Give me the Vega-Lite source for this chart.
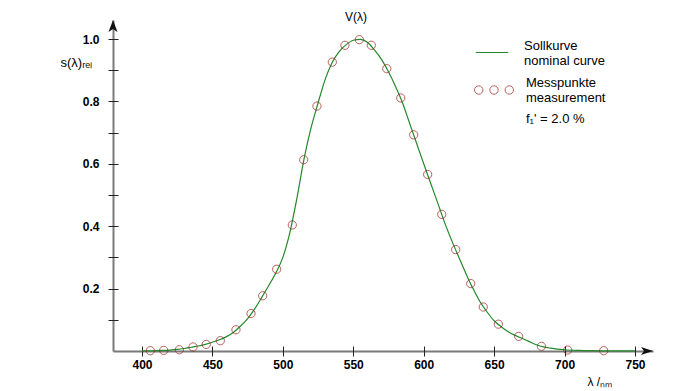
{
  "$schema": "https://vega.github.io/schema/vega-lite/v6.json",
  "width": 540,
  "height": 331,
  "autosize": {"type": "none"},
  "padding": {"left": 113, "top": 20, "right": 38, "bottom": 40},
  "title": {"text": "V(λ)", "anchor": "middle", "dx": -27, "offset": -4, "fontSize": 12, "fontWeight": "normal", "font": "Liberation Sans", "color": "#000"},
  "datasets": {
    "curve": [
      {"wl": 400, "v": 0.0003}, {"wl": 405, "v": 0.0006}, {"wl": 410, "v": 0.001}, {"wl": 415, "v": 0.0018},
      {"wl": 420, "v": 0.003}, {"wl": 425, "v": 0.005}, {"wl": 430, "v": 0.008}, {"wl": 435, "v": 0.012},
      {"wl": 440, "v": 0.016}, {"wl": 445, "v": 0.021}, {"wl": 450, "v": 0.028}, {"wl": 455, "v": 0.036},
      {"wl": 460, "v": 0.046}, {"wl": 465, "v": 0.06}, {"wl": 470, "v": 0.08}, {"wl": 475, "v": 0.104},
      {"wl": 480, "v": 0.135}, {"wl": 485, "v": 0.172}, {"wl": 490, "v": 0.21}, {"wl": 495, "v": 0.25},
      {"wl": 500, "v": 0.3}, {"wl": 505, "v": 0.38}, {"wl": 510, "v": 0.49}, {"wl": 515, "v": 0.615},
      {"wl": 520, "v": 0.715}, {"wl": 525, "v": 0.795}, {"wl": 530, "v": 0.87}, {"wl": 535, "v": 0.925},
      {"wl": 540, "v": 0.96}, {"wl": 545, "v": 0.982}, {"wl": 550, "v": 0.996}, {"wl": 555, "v": 0.999},
      {"wl": 560, "v": 0.99}, {"wl": 565, "v": 0.965}, {"wl": 570, "v": 0.935}, {"wl": 575, "v": 0.895},
      {"wl": 580, "v": 0.848}, {"wl": 585, "v": 0.795}, {"wl": 590, "v": 0.73}, {"wl": 595, "v": 0.665},
      {"wl": 600, "v": 0.6}, {"wl": 605, "v": 0.537}, {"wl": 610, "v": 0.474}, {"wl": 615, "v": 0.41},
      {"wl": 620, "v": 0.353}, {"wl": 625, "v": 0.3}, {"wl": 630, "v": 0.248}, {"wl": 635, "v": 0.2},
      {"wl": 640, "v": 0.158}, {"wl": 645, "v": 0.125}, {"wl": 650, "v": 0.097}, {"wl": 655, "v": 0.078},
      {"wl": 660, "v": 0.062}, {"wl": 665, "v": 0.05}, {"wl": 670, "v": 0.04}, {"wl": 675, "v": 0.03},
      {"wl": 680, "v": 0.02}, {"wl": 685, "v": 0.013}, {"wl": 690, "v": 0.009}, {"wl": 695, "v": 0.006},
      {"wl": 700, "v": 0.004}, {"wl": 710, "v": 0.002}, {"wl": 720, "v": 0.001}, {"wl": 730, "v": 0.0006},
      {"wl": 740, "v": 0.0003}, {"wl": 750, "v": 0.0002}
    ],
    "meas": [
      {"wl": 405.9, "v": 0.001}, {"wl": 415.4, "v": 0.002}, {"wl": 426.5, "v": 0.004}, {"wl": 436.2, "v": 0.013},
      {"wl": 445.6, "v": 0.021}, {"wl": 455.6, "v": 0.033}, {"wl": 466.7, "v": 0.068}, {"wl": 477.4, "v": 0.12},
      {"wl": 485.7, "v": 0.177}, {"wl": 495.6, "v": 0.262}, {"wl": 506.7, "v": 0.404}, {"wl": 514.8, "v": 0.613},
      {"wl": 524.2, "v": 0.785}, {"wl": 535.1, "v": 0.926}, {"wl": 544.1, "v": 0.98}, {"wl": 554.3, "v": 0.998},
      {"wl": 562.8, "v": 0.98}, {"wl": 573.8, "v": 0.905}, {"wl": 583.7, "v": 0.811}, {"wl": 592.9, "v": 0.693},
      {"wl": 602.8, "v": 0.566}, {"wl": 612.8, "v": 0.438}, {"wl": 622.7, "v": 0.325}, {"wl": 633.4, "v": 0.216},
      {"wl": 642.3, "v": 0.141}, {"wl": 653.0, "v": 0.086}, {"wl": 667.4, "v": 0.047}, {"wl": 683.6, "v": 0.015},
      {"wl": 702.2, "v": 0.003}, {"wl": 727.8, "v": 0.001}
    ]
  },
  "layer": [
    {
      "data": {"name": "curve"},
      "mark": {"type": "line", "interpolate": "monotone", "strokeWidth": 1.2},
      "encoding": {
        "x": {"field": "wl", "type": "quantitative", "scale": {"domain": [379.4, 762.8], "nice": false, "zero": false},
          "axis": {"orient": "bottom", "domain": true, "domainColor": "#7a7a7a", "domainWidth": 2, "ticks": false, "labels": false, "grid": false,
            "title": "λ /ₙₘ", "titleX": 474, "titleY": 30, "titleAlign": "left", "titleBaseline": "middle", "titleFontWeight": "normal", "titleFontSize": 12}},
        "y": {"field": "v", "type": "quantitative", "scale": {"domain": [0, 1.061], "nice": false, "zero": false},
          "axis": {"orient": "left", "domain": true, "domainColor": "#7a7a7a", "domainWidth": 2, "ticks": false, "labels": false, "grid": false,
            "title": "s(λ)ᵣₑₗ", "titleAngle": 0, "titleX": -53, "titleY": 42, "titleAlign": "left", "titleBaseline": "middle", "titleFontWeight": "normal", "titleFontSize": 13}},
        "color": {"datum": "Sollkurve", "type": "nominal", "scale": {"range": ["#23892a"]},
          "legend": {"orient": "none", "legendX": 362, "legendY": 15.5, "title": null, "padding": 0, "symbolType": "stroke", "symbolSize": 1063, "symbolStrokeWidth": 1.2,
            "labelOffset": 15, "labelFontSize": 13, "labelBaseline": "bottom", "labelLimit": 0, "labelExpr": "['Sollkurve','nominal curve']"}}
      }
    },
    {
      "data": {"name": "meas"},
      "mark": {"type": "point", "filled": false, "size": 68, "strokeWidth": 1},
      "encoding": {
        "x": {"field": "wl", "type": "quantitative",
          "axis": {"orient": "bottom", "domain": false, "ticks": true, "tickSize": 10, "tickWidth": 1, "offset": -5, "values": [400, 450, 500, 550, 600, 650, 700, 750],
            "labelPadding": 3, "labelFontSize": 12, "labelFontWeight": "bold", "grid": false, "title": null}},
        "y": {"field": "v", "type": "quantitative",
          "axis": {"orient": "left", "domain": false, "ticks": true, "tickSize": 10, "tickWidth": 1, "offset": -5, "values": [0.1, 0.2, 0.3, 0.4, 0.5, 0.6, 0.7, 0.8, 0.9, 1.0],
            "labelExpr": "round(datum.value*10) % 2 == 0 ? format(datum.value, '.1f') : ''", "labelPadding": 9, "labelFontSize": 12, "labelFontWeight": "bold", "grid": false, "title": null}},
        "color": {"datum": "Messpunkte", "type": "nominal", "scale": {"range": ["#9e1b1b"]},
          "legend": {"orient": "none", "legendX": 360, "legendY": 49, "title": null,
            "padding": 0, "symbolType": "M-0.965,0A0.208,0.208,0,1,0,-0.549,0A0.208,0.208,0,1,0,-0.965,0ZM-0.208,0A0.208,0.208,0,1,0,0.208,0A0.208,0.208,0,1,0,-0.208,0ZM0.549,0A0.208,0.208,0,1,0,0.965,0A0.208,0.208,0,1,0,0.549,0Z",
            "symbolSize": 1632, "symbolStrokeWidth": 1, "symbolFillColor": "transparent", "labelOffset": 11, "labelFontSize": 13, "labelBaseline": "bottom", "labelLimit": 0,
            "labelExpr": "['Messpunkte','measurement']"}}
      }
    },
    {
      "data": {"values": [{}]},
      "mark": {"type": "point", "shape": "M0,0L-2,-0.65L-1.5,0L-2,0.65Z", "filled": true, "size": 144, "color": "#111", "opacity": 1},
      "encoding": {
        "x": {"datum": 762.8, "type": "quantitative", "axis": null},
        "y": {"datum": 0, "type": "quantitative", "axis": null},
        "strokeDash": {"datum": "f₁' = 2.0 %", "type": "nominal",
          "legend": {"orient": "none", "legendX": 360, "legendY": 77.5, "title": null, "padding": 0, "symbolType": "circle", "symbolSize": 1632, "symbolOpacity": 0,
            "labelOffset": 11, "labelFontSize": 13, "labelLimit": 0}}
      }
    },
    {
      "data": {"values": [{}]},
      "mark": {"type": "point", "shape": "M0,0L-0.75,2L0,1.5L0.75,2Z", "filled": true, "size": 144, "color": "#111", "opacity": 1},
      "encoding": {
        "x": {"datum": 379.4, "type": "quantitative", "axis": null},
        "y": {"datum": 1.061, "type": "quantitative", "axis": null}
      }
    }
  ],
  "resolve": {"scale": {"color": "independent"}, "axis": {"x": "independent", "y": "independent"}},
  "config": {
    "font": "Liberation Sans",
    "view": {"stroke": null},
    "axis": {"labelFont": "Liberation Sans", "titleFont": "Liberation Sans", "labelColor": "#000", "titleColor": "#000", "tickColor": "#222"},
    "legend": {"labelFont": "Liberation Sans", "titleFont": "Liberation Sans", "labelColor": "#000", "titleColor": "#000"}
  }
}
